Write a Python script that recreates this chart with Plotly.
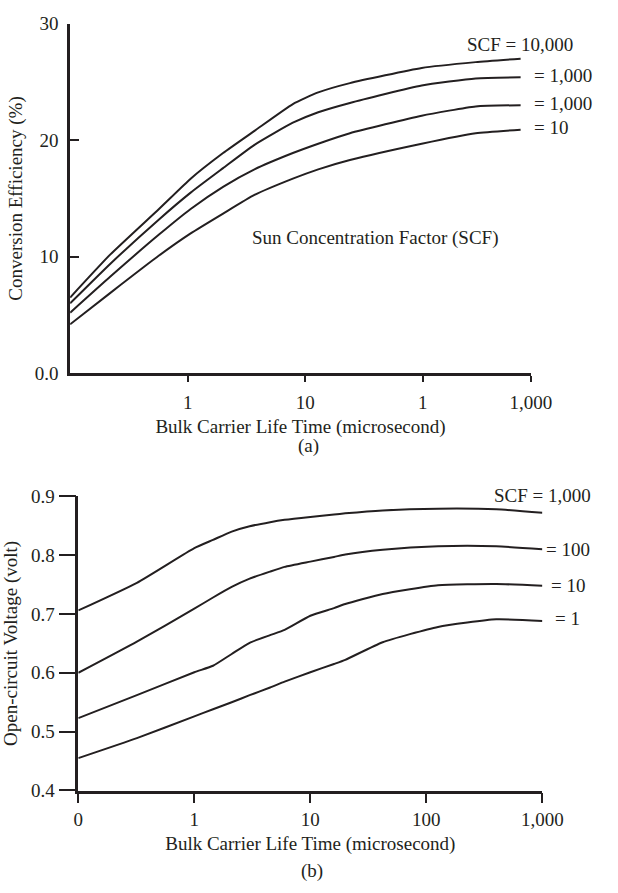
import plotly.graph_objects as go

# ---------------- data ----------------
# (a) Conversion efficiency (%) vs bulk carrier life time (microsecond)
A_X = [0.1, 0.22, 0.57, 1.06, 2.0, 3.7, 7.85, 12.9, 24, 98, 282, 680]
A_SCF_10000 = [6.5, 10.2, 14.1, 16.7, 18.9, 20.8, 23.1, 24.1, 24.9, 26.2, 26.7, 27.0]
A_SCF_1000a = [6.0, 9.4, 13.2, 15.5, 17.6, 19.6, 21.5, 22.4, 23.2, 24.7, 25.3, 25.4]
A_SCF_1000b = [5.2, 8.3, 11.9, 14.1, 16.0, 17.5, 18.9, 19.7, 20.6, 22.1, 22.9, 23.0]
A_SCF_10 = [4.2, 6.9, 10.1, 12.0, 13.7, 15.3, 16.7, 17.5, 18.3, 19.7, 20.6, 20.9]
A_X_TICKVALS = [1, 10, 100, 830]
A_X_TICKTEXT = ["1", "10", "1", "1,000"]
A_Y_TICKVALS = [0, 10, 20, 30]
A_Y_TICKTEXT = ["0.0", "10", "20", "30"]

# (b) Open-circuit voltage (volt) vs bulk carrier life time (microsecond)
B_X = [0.1, 0.32, 1.0, 1.45, 2.1, 3.0, 4.5, 6.0, 10, 16, 20, 42, 126, 400, 1000]
B_SCF_1000 = [0.706, 0.753, 0.812, 0.826, 0.840, 0.849, 0.856, 0.860, 0.865, 0.869, 0.871, 0.876, 0.879, 0.878, 0.872]
B_SCF_100 = [0.600, 0.653, 0.709, 0.728, 0.746, 0.760, 0.772, 0.780, 0.789, 0.797, 0.801, 0.809, 0.815, 0.815, 0.810]
B_SCF_10 = [0.523, 0.562, 0.601, 0.612, 0.632, 0.651, 0.664, 0.673, 0.697, 0.710, 0.717, 0.734, 0.749, 0.751, 0.748]
B_SCF_1 = [0.455, 0.489, 0.526, 0.538, 0.550, 0.562, 0.575, 0.585, 0.601, 0.615, 0.622, 0.652, 0.678, 0.691, 0.688]
B_X_TICKVALS = [0.1, 1, 10, 100, 1000]
B_X_TICKTEXT = ["0", "1", "10", "100", "1,000"]
B_Y_TICKVALS = [0.4, 0.5, 0.6, 0.7, 0.8, 0.9]

A_LABELS = ["SCF = 10,000", "= 1,000", "= 1,000", "= 10"]
B_LABELS = ["SCF = 1,000", "= 100", "= 10", "= 1"]

# ---------------- layout helpers ----------------
W, H = 618, 893
FONT = "Liberation Serif, Times New Roman, serif"
INK = "#231f20"
FS = 19


def px(x):
    return x / W


def py(y):
    return 1 - y / H


fig = go.Figure()

for ys in [A_SCF_10000, A_SCF_1000a, A_SCF_1000b, A_SCF_10]:
    fig.add_trace(go.Scatter(x=A_X, y=ys, mode="lines", xaxis="x", yaxis="y",
                             line=dict(color=INK, width=2, shape="spline", smoothing=0.5),
                             showlegend=False, hoverinfo="skip"))

for ys in [B_SCF_1000, B_SCF_100, B_SCF_10, B_SCF_1]:
    fig.add_trace(go.Scatter(x=B_X, y=ys, mode="lines", xaxis="x2", yaxis="y2",
                             line=dict(color=INK, width=2, shape="spline", smoothing=0.5),
                             showlegend=False, hoverinfo="skip"))

axis_common = dict(showgrid=False, zeroline=False, showline=True, linecolor=INK,
                   linewidth=2.5, tickcolor=INK, tickwidth=2,
                   tickfont=dict(family=FONT, size=FS, color=INK),
                   title_font=dict(family=FONT, size=FS, color=INK))

fig.update_layout(
    width=W, height=H,
    margin=dict(l=0, r=0, t=0, b=0),
    paper_bgcolor="white", plot_bgcolor="white",
    font=dict(family=FONT, size=FS, color=INK),
    xaxis=dict(axis_common, domain=[px(68), px(549)], anchor="y", type="log",
               range=[-1, 2.92], tickvals=A_X_TICKVALS, ticktext=A_X_TICKTEXT,
               ticks="outside", ticklen=6, ticklabelstandoff=4,
               title=dict(text="Bulk Carrier Life Time (microsecond)", standoff=8)),
    yaxis=dict(axis_common, domain=[py(372), py(14)], anchor="x", range=[0, 30],
               tickvals=A_Y_TICKVALS, ticktext=A_Y_TICKTEXT, ticks="inside", ticklen=9,
               ticklabelstandoff=5,
               title=dict(text="Conversion Efficiency (%)", standoff=8)),
    xaxis2=dict(axis_common, domain=[px(76.5), px(561)], anchor="y2", type="log",
                range=[-1, 3], tickvals=B_X_TICKVALS, ticktext=B_X_TICKTEXT,
                ticks="outside", ticklen=10,
                title=dict(text="Bulk Carrier Life Time (microsecond)", standoff=8)),
    yaxis2=dict(axis_common, domain=[py(799.3), py(498)], anchor="x2", range=[0.4, 0.9],
                tickvals=B_Y_TICKVALS, tickformat=".1f", ticks="outside", ticklen=17,
                title=dict(text="Open-circuit Voltage (volt)", standoff=10)),
)

ann = []
for text, (x, y) in zip(A_LABELS, [(480, 35), (550, 67), (550, 96), (550, 120)]):
    ann.append(dict(text=text, x=px(x), y=py(y), xref="paper", yref="paper",
                    xanchor="left", yanchor="middle", showarrow=False))
for text, (x, y) in zip(B_LABELS, [(508, 497), (563, 553), (568, 589), (572, 623)]):
    ann.append(dict(text=text, x=px(x), y=py(y), xref="paper", yref="paper",
                    xanchor="left", yanchor="middle", showarrow=False))
ann.append(dict(text="Sun Concentration Factor (SCF)", x=px(386), y=py(234), xref="paper",
                yref="paper", xanchor="center", yanchor="middle", showarrow=False))
ann.append(dict(text="(a)", x=px(317), y=py(447), xref="paper", yref="paper",
                xanchor="center", yanchor="middle", showarrow=False))
ann.append(dict(text="(b)", x=px(321), y=py(882), xref="paper", yref="paper",
                xanchor="center", yanchor="middle", showarrow=False))
fig.update_layout(annotations=ann)

fig.write_html("out.html", config={"displayModeBar": False},
               post_script="document.body.style.margin='0';document.body.style.overflow='hidden';")
